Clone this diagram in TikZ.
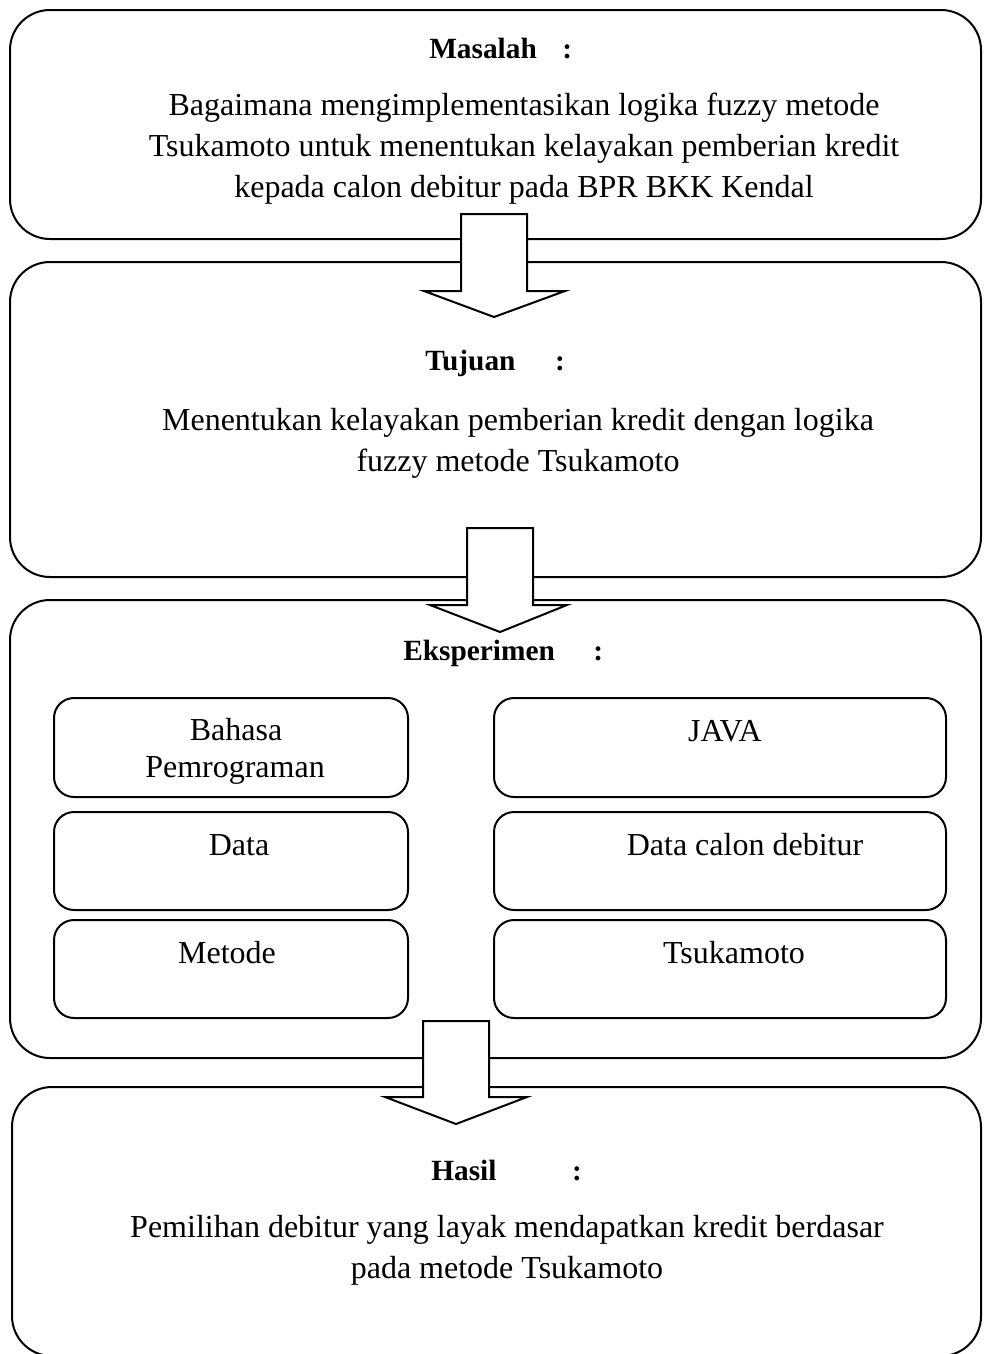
\documentclass[tikz,border=0pt]{standalone}
\usepackage{fontspec}
\setmainfont{Liberation Serif}
\tikzset{
  bigbox/.style={line width=1.5pt, rounded corners=30pt},
  smallbox/.style={line width=1.5pt, rounded corners=15pt},
  blockarrow/.style={line width=1.5pt, fill=white, line join=miter},
  body/.style={anchor=base, inner sep=0pt, font=\fontsize{24}{29}\selectfont},
  head/.style={anchor=base west, inner sep=0pt, font=\fontsize{22}{26}\selectfont\bfseries},
}
\begin{document}
\begin{tikzpicture}[x=0.75pt,y=0.75pt,yscale=-1,xscale=1]
\path[use as bounding box] (0,0) rectangle (983,1354);

%Rounded Rect: masalah
\draw[bigbox] (10,10) rectangle (981,239);
%Rounded Rect: tujuan
\draw[bigbox] (10,262) rectangle (981,577);
%Rounded Rect: eksperimen
\draw[bigbox] (10,600) rectangle (981,1058);
%Rounded Rect: hasil
\draw[bigbox] (12,1087) rectangle (981,1356);

%Rounded Rect: left column
\draw[smallbox] (54,698) rectangle (408,797);
\draw[smallbox] (54,812) rectangle (408,910);
\draw[smallbox] (54,920) rectangle (408,1018);
%Rounded Rect: right column
\draw[smallbox] (494,698) rectangle (946,797);
\draw[smallbox] (494,812) rectangle (946,910);
\draw[smallbox] (494,920) rectangle (946,1018);

%Shape: Down Arrow (masalah to tujuan)
\draw[blockarrow] (461,214) -- (527,214) -- (527,291) -- (565,291) -- (494,317) -- (424,291) -- (461,291) -- cycle;
%Shape: Down Arrow (tujuan to eksperimen)
\draw[blockarrow] (467,528) -- (533,528) -- (533,605) -- (567,605) -- (500,632) -- (430,605) -- (467,605) -- cycle;
%Shape: Down Arrow (eksperimen to hasil)
\draw[blockarrow] (423,1021) -- (489,1021) -- (489,1097) -- (527,1097) -- (456,1124) -- (385,1097) -- (423,1097) -- cycle;

% Text Node
\draw (429,58) node [head] (masalahHead) {Masalah\hspace{19.2pt}:};
% Text Node
\draw (524,115) node [body] (masalahA) {Bagaimana mengimplementasikan logika fuzzy metode};
\draw (524,156) node [body] (masalahB) {Tsukamoto untuk menentukan kelayakan pemberian kredit};
\draw (524,197) node [body] (masalahC) {kepada calon debitur pada BPR BKK Kendal};

% Text Node
\draw (425,370) node [head] (tujuanHead) {Tujuan\hspace{29.7pt}:};
% Text Node
\draw (518,430) node [body] (tujuanA) {Menentukan kelayakan pemberian kredit dengan logika};
\draw (518,471) node [body] (tujuanB) {fuzzy metode Tsukamoto};

% Text Node
\draw (403,660) node [head] (eksperimenHead) {Eksperimen\hspace{29pt}:};
% Text Node
\draw (236,740) node [body] (bahasaA) {Bahasa};
\draw (235,777) node [body] (bahasaB) {Pemrograman};
\draw (239,855) node [body] (dataL) {Data};
\draw (227,963) node [body] (metodeL) {Metode};
\draw (725,741) node [body] (javaR) {JAVA};
\draw (745,855) node [body] (dataR) {Data calon debitur};
\draw (734,963) node [body] (metodeR) {Tsukamoto};

% Text Node
\draw (431,1180) node [head] (hasilHead) {Hasil\hspace{56.7pt}:};
% Text Node
\draw (507,1237) node [body] (hasilA) {Pemilihan debitur yang layak mendapatkan kredit berdasar};
\draw (507,1278) node [body] (hasilB) {pada metode Tsukamoto};

\end{tikzpicture}
\end{document}
